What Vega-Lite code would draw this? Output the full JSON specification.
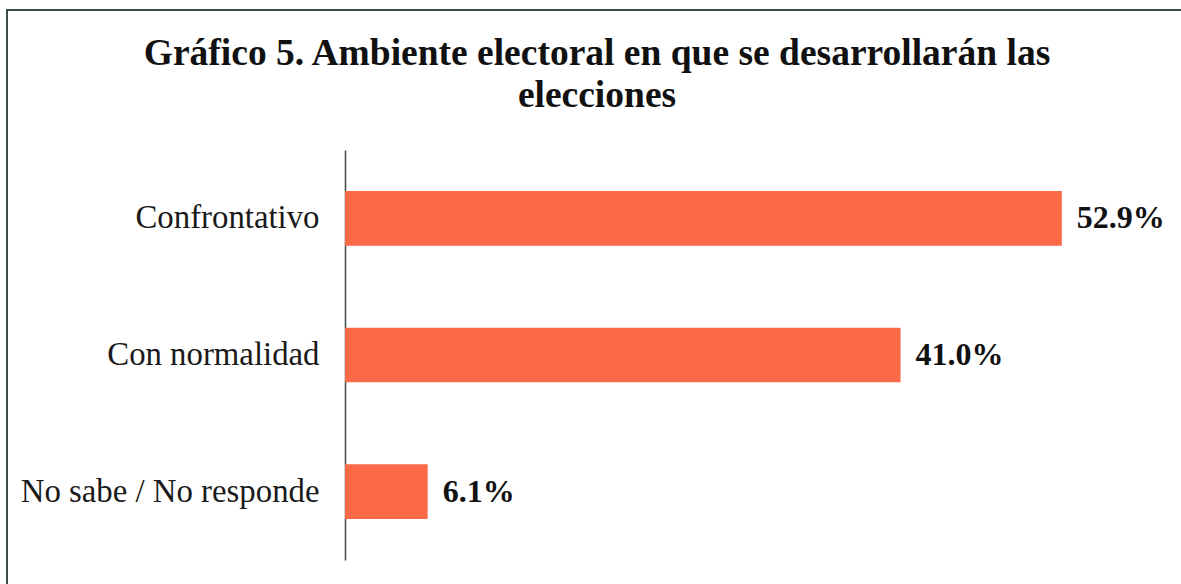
{
  "$schema": "https://vega.github.io/schema/vega-lite/v6.json",
  "autosize": "none",
  "padding": {"left": 7, "top": 10, "right": 0, "bottom": 0},
  "width": 1180,
  "height": 580,
  "background": "white",
  "title": {
    "text": ["Gráfico 5. Ambiente electoral en que se desarrollarán las", "elecciones"],
    "font": "Liberation Serif",
    "fontSize": 37.5,
    "fontWeight": "bold",
    "color": "#111111",
    "anchor": "middle",
    "frame": "group",
    "baseline": "alphabetic",
    "lineHeight": 42,
    "offset": -134
  },
  "config": {
    "view": {"stroke": "#3d4a46", "strokeWidth": 2},
    "font": "Liberation Serif"
  },
  "data": {
    "values": [
      {"categoria": "Confrontativo", "valor": 52.9, "etiqueta": "52.9%"},
      {"categoria": "Con normalidad", "valor": 41.0, "etiqueta": "41.0%"},
      {"categoria": "No sabe / No responde", "valor": 6.1, "etiqueta": "6.1%"}
    ]
  },
  "encoding": {
    "y": {
      "field": "categoria",
      "type": "nominal",
      "sort": null,
      "scale": {"range": [140, 550], "paddingInner": 0.6, "paddingOuter": 0.3},
      "axis": {
        "title": null,
        "offset": -338,
        "ticks": false,
        "labelPadding": 26,
        "labelFont": "Liberation Serif",
        "labelFontSize": 32.8,
        "labelColor": "#1a1a1a",
        "domainColor": "#3d4a46",
        "domainWidth": 1.5,
        "grid": false,
        "labelLimit": 400
      }
    },
    "x": {
      "field": "valor",
      "type": "quantitative",
      "scale": {"domain": [-24.945, 62.14], "nice": false, "zero": false},
      "axis": null
    }
  },
  "layer": [
    {"mark": {"type": "bar", "color": "#fa6a47"}},
    {
      "mark": {"type": "text", "align": "left", "baseline": "middle", "dx": 15, "font": "Liberation Serif", "fontSize": 32, "fontWeight": "bold", "color": "#111111"},
      "encoding": {"text": {"field": "etiqueta"}}
    }
  ]
}
